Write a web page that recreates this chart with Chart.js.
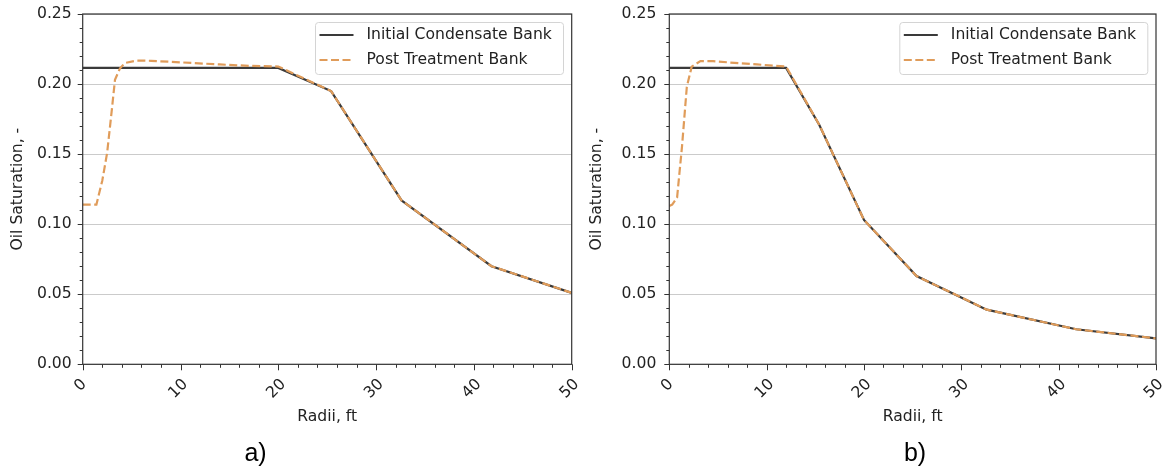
<!DOCTYPE html>
<html>
<head>
<meta charset="utf-8">
<script src="https://cdn.jsdelivr.net/npm/chart.js@4.4.1/dist/chart.umd.min.js"></script>
<style>
  body { margin: 0; background: #fff; width: 1168px; height: 471px; overflow: hidden; position: relative; }
  canvas { position: absolute; top: 0; }
  #panel-a { left: 0; }
  #panel-b { left: 584px; }
</style>
</head>
<body>
<canvas id="panel-a" width="584" height="471"></canvas>
<canvas id="panel-b" width="584" height="471"></canvas>
<script>
// panel a) condensate bank before and after treatment
const radiiA = [0, 20, 25.4, 32.6, 41.8, 50];
const initialA = [0.2115, 0.2115, 0.195, 0.117, 0.070, 0.051];
const postRadiiA = [0, 1.4, 2.0, 2.5, 3.0, 3.3, 3.8, 4.3, 5.5, 7, 10, 14, 17, 20, 25.4, 32.6, 41.8, 50];
const postA = [0.114, 0.114, 0.131, 0.151, 0.183, 0.203, 0.211, 0.215, 0.2168, 0.2166, 0.2155, 0.214, 0.213, 0.2125, 0.195, 0.117, 0.070, 0.051];

// panel b)
const radiiB = [0, 12, 15.4, 20, 25.4, 32.6, 41.8, 50];
const initialB = [0.2115, 0.2115, 0.171, 0.103, 0.063, 0.039, 0.025, 0.0185];
const postRadiiB = [0, 0.3, 0.8, 1.3, 1.8, 2.3, 3.2, 4.5, 6, 9, 12, 15.4, 20, 25.4, 32.6, 41.8, 50];
const postB = [0.113, 0.114, 0.119, 0.155, 0.198, 0.2124, 0.2164, 0.2163, 0.2155, 0.214, 0.2125, 0.171, 0.103, 0.063, 0.039, 0.025, 0.0185];

const xTicks = [0, 10, 20, 30, 40, 50];
const seriesNames = ["Initial Condensate Bank", "Post Treatment Bank"];

const FONT = "DejaVu Sans";
const FS = 15.6;
const DARK = "#3a3a3a";
const ORANGE = "#e09c5a";
const DASH = [8, 3.5];
const AREA_TOP = 14;
const AREA_BOTTOM = 364.3;

function pts(xs, ys) {
  return xs.map((x, i) => ({ x, y: ys[i] }));
}

function makePanel(id, p) {
  // frame, ticks, rotated x labels, legend and caption
  const decor = {
    id: "decor",
    afterDraw(chart) {
      const ctx = chart.ctx;
      const a = chart.chartArea;
      const xs = chart.scales.x, ys = chart.scales.y;
      ctx.save();

      ctx.strokeStyle = "#333";
      ctx.lineWidth = 1;
      ctx.beginPath();
      for (let v = 0; v <= 50; v += 2) {
        const x = Math.round(xs.getPixelForValue(v)) + 0.5;
        const len = v % 10 === 0 ? 6 : 3.5;
        ctx.moveTo(x, a.bottom);
        ctx.lineTo(x, a.bottom + len);
      }
      for (let k = 0; k <= 25; k++) {
        const y = Math.round(ys.getPixelForValue(k / 100)) + 0.5;
        const len = k % 5 === 0 ? 5 : 3;
        ctx.moveTo(a.left, y);
        ctx.lineTo(a.left - len, y);
      }
      ctx.stroke();

      ctx.lineWidth = 1.2;
      ctx.strokeRect(a.left, a.top, a.right - a.left, a.bottom - a.top);

      // x tick labels at 45 degrees
      ctx.fillStyle = "#222";
      ctx.font = FS + "px '" + FONT + "'";
      ctx.textAlign = "center";
      ctx.textBaseline = "middle";
      xTicks.forEach(v => {
        const t = String(v);
        const w = ctx.measureText(t).width;
        const h = (w + FS * 0.9) * Math.SQRT1_2;
        ctx.save();
        ctx.translate(xs.getPixelForValue(v) - 2, a.bottom + 12.6 + h / 2);
        ctx.rotate(-Math.PI / 4);
        ctx.fillText(t, 0, 0);
        ctx.restore();
      });

      ctx.textBaseline = "alphabetic";
      ctx.fillText("Radii, ft", (a.left + a.right) / 2, 421);

      // legend
      const right = a.right - 8.7, left = right - 248, top = AREA_TOP + 8;
      ctx.beginPath();
      ctx.roundRect(left + 0.5, top + 0.5, 248, 52, 3);
      ctx.fillStyle = "rgba(255,255,255,0.8)";
      ctx.fill();
      ctx.strokeStyle = "#d4d4d4";
      ctx.lineWidth = 1;
      ctx.stroke();

      ctx.lineWidth = 2.2;
      ctx.strokeStyle = DARK;
      ctx.beginPath();
      ctx.moveTo(left + 4.5, top + 13);
      ctx.lineTo(left + 38.5, top + 13);
      ctx.stroke();
      ctx.strokeStyle = ORANGE;
      ctx.setLineDash(DASH);
      ctx.beginPath();
      ctx.moveTo(left + 4.5, top + 38);
      ctx.lineTo(left + 38.5, top + 38);
      ctx.stroke();
      ctx.setLineDash([]);

      ctx.fillStyle = "#222";
      ctx.textAlign = "left";
      ctx.textBaseline = "middle";
      ctx.fillText(seriesNames[0], left + 51.5, top + 13);
      ctx.fillText(seriesNames[1], left + 51.5, top + 38);

      // caption
      ctx.fillStyle = "#000";
      ctx.font = "25px 'Liberation Sans'";
      ctx.textAlign = "center";
      ctx.textBaseline = "alphabetic";
      ctx.fillText(p.caption, p.captionX, 461);

      ctx.restore();
    }
  };

  return new Chart(document.getElementById(id), {
    type: "line",
    data: {
      datasets: [
        {
          label: seriesNames[0],
          data: pts(p.radii, p.initial),
          borderColor: DARK,
          borderWidth: 2.2,
          order: 1,
        },
        {
          label: seriesNames[1],
          data: pts(p.postRadii, p.post),
          borderColor: ORANGE,
          borderWidth: 2.2,
          borderDash: DASH,
          order: 0,
        },
      ],
    },
    options: {
      responsive: false,
      animation: false,
      devicePixelRatio: 1,
      layout: { padding: { left: 0, top: AREA_TOP, right: p.padRight, bottom: 0 } },
      elements: { point: { radius: 0 }, line: { tension: 0 } },
      plugins: { legend: { display: false }, tooltip: { enabled: false } },
      scales: {
        x: {
          type: "linear",
          min: 0,
          max: 50,
          ticks: { display: false, stepSize: 10 },
          grid: { display: false },
          border: { display: false },
          afterFit: s => { s.height = 471 - AREA_BOTTOM; },
        },
        y: {
          min: 0,
          max: 0.25,
          ticks: {
            stepSize: 0.05,
            padding: p.tickPad,
            color: "#222",
            font: { family: FONT, size: FS },
            callback: v => v.toFixed(2),
          },
          grid: { color: "#cbcbcb", lineWidth: 1, drawTicks: false },
          border: { display: false },
          title: {
            display: true,
            text: "Oil Saturation, -",
            color: "#222",
            font: { family: FONT, size: FS },
            padding: { top: p.titlePad, bottom: 0 },
          },
          afterFit: s => {
            s.width = p.axisLeft;
            // keep the top of the plot box fixed, the top tick label may overhang the padding
            s.paddingTop = 0;
            s.paddingBottom = 0;
          },
        },
      },
    },
    plugins: [decor],
  });
}

makePanel("panel-a", {
  radii: radiiA, initial: initialA, postRadii: postRadiiA, post: postA,
  axisLeft: 82.7, padRight: 584 - 571.7, tickPad: 11, titlePad: 8.6,
  caption: "a)", captionX: 255.5,
});

makePanel("panel-b", {
  radii: radiiB, initial: initialB, postRadii: postRadiiB, post: postB,
  axisLeft: 85.3, padRight: 12, tickPad: 13, titlePad: 3.6,
  caption: "b)", captionX: 331,
});
</script>
</body>
</html>
